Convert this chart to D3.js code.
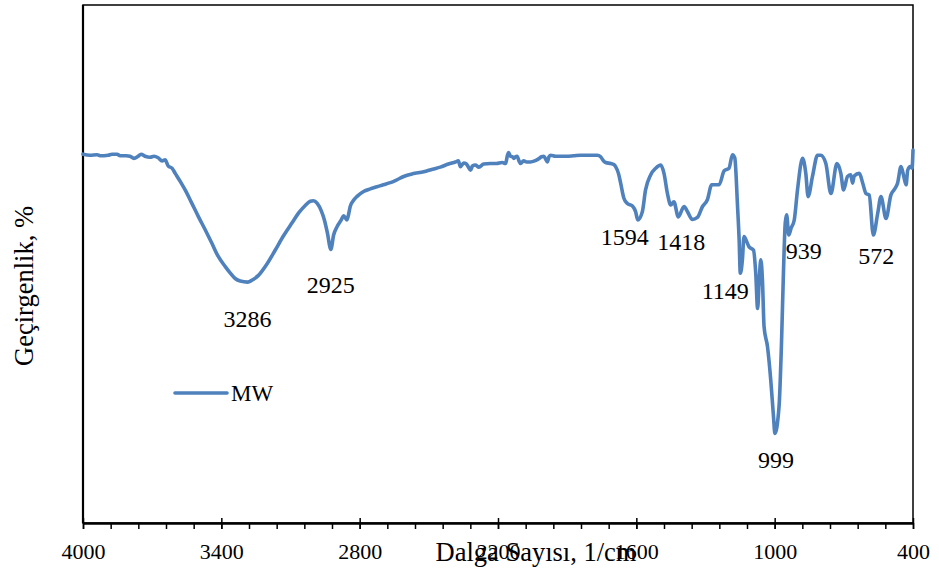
<!DOCTYPE html>
<html>
<head>
<meta charset="utf-8">
<script src="https://cdn.jsdelivr.net/npm/d3@7"></script>
<style>
  html, body { margin: 0; padding: 0; background: #fff; }
  svg { display: block; }
  text { font-family: "Liberation Serif", "Times New Roman", serif; fill: #000; }
</style>
</head>
<body>
<svg id="chart" width="939" height="576"></svg>
<script>
// FTIR spectrum of sample MW: wavenumber (1/cm) and transmittance (%)
const wavenumbers = [4000,3970,3939,3926,3891,3874,3852,3839,3813,3796,3779,3761,3748,3731,3709,3692,3674,3657,3644,3630,3614,3600,3579,3557,3531,3499,3470,3441,3414,3383,3362,3340,3318,3286,3266,3239,3205,3166,3131,3094,3062,3036,3014,3001,2984,2966,2953,2940,2925,2913,2897,2880,2870,2862,2855,2847,2841,2828,2810,2783,2754,2725,2697,2667,2641,2609,2571,2522,2484,2450,2415,2385,2372,2363,2349,2337,2328,2319,2311,2298,2283,2262,2233,2207,2182,2167,2159,2154,2146,2137,2131,2124,2117,2109,2102,2089,2076,2059,2041,2024,2011,2001,1994,1986,1979,1972,1950,1929,1903,1871,1842,1807,1769,1755,1742,1733,1711,1698,1690,1677,1668,1654,1639,1617,1603,1594,1574,1560,1538,1516,1494,1480,1465,1451,1437,1418,1393,1378,1357,1335,1313,1292,1273,1241,1219,1198,1183,1173,1161,1154,1149,1140,1133,1121,1111,1092,1082,1074,1067,1060,1053,1046,1031,1017,1005,999,981,970,962,954,948,939,928,915,901,879,865,855,836,814,800,778,756,730,713,701,684,670,662,655,633,618,604,590,572,553,539,517,496,481,467,452,440,430,423,412,404,400];
const transmittance = [71.2,71.0,71.1,70.9,71.0,71.2,71.2,70.9,70.9,70.8,70.4,70.8,71.2,70.8,70.6,70.8,70.5,69.9,70.1,68.9,68.5,67.5,66.0,64.3,62.0,59.1,56.6,54.0,51.5,49.5,48.3,47.2,46.7,46.5,46.9,47.8,49.8,52.7,55.4,57.9,60.0,61.3,62.1,62.2,61.7,60.2,58.5,56.0,52.8,55.6,57.3,58.5,59.3,58.9,58.5,59.8,61.1,62.2,63.1,64.0,64.5,64.9,65.3,65.7,66.2,66.9,67.4,67.8,68.3,68.7,69.3,69.7,69.9,68.8,69.5,69.3,68.7,68.1,68.9,69.1,68.7,69.3,69.4,69.4,69.6,69.4,71.0,71.5,70.8,70.7,70.4,70.7,70.8,69.9,69.4,69.9,69.7,69.7,69.9,70.3,70.7,70.8,70.3,69.7,70.7,71.0,70.8,70.8,70.8,70.9,71.0,71.0,71.0,70.7,69.9,69.6,69.4,69.2,68.8,67.4,65.6,62.7,61.7,61.2,60.1,58.5,60.1,64.3,67.2,68.5,69.1,67.5,63.6,61.4,62.0,59.1,61.1,60.1,58.6,59.0,61.1,62.4,65.3,65.3,68.0,68.5,71.1,70.5,61.1,54.6,48.2,50.8,55.3,54.3,53.3,52.7,48.2,41.4,46.9,50.8,46.9,37.9,34.0,27.6,20.5,17.3,22.5,35.3,48.2,58.0,59.5,55.6,57.0,58.5,64.3,70.4,67.5,63.0,66.9,71.0,71.0,69.4,63.6,69.4,67.5,64.3,66.9,67.2,65.6,67.0,67.5,65.6,63.6,63.3,55.6,59.8,63.0,58.8,63.3,64.4,65.6,68.8,66.9,65.3,68.1,68.8,68.5,72.0];

// Labelled absorption bands
const peakWavenumbers = [3286, 2925, 1594, 1418, 1149, 999, 939, 572];
const peakLabels = ["3286", "2925", "1594", "1418", "1149", "999", "939", "572"];

// Axis ticks
const majorTicks = [4000, 3400, 2800, 2200, 1600, 1000, 400];
const tickLabels = ["4000", "3400", "2800", "2200", "1600", "1000", "400"];

const seriesName = "MW";
const xTitle = "Dalga Sayısı, 1/cm";
const yTitle = "Geçirgenlik, %";

const svg = d3.select("#chart");
const W = 939, H = 576;
const m = { left: 83, right: 913, top: 5, bottom: 523 };

svg.append("rect").attr("width", W).attr("height", H).attr("fill", "#fff");

const x = d3.scaleLinear().domain([4000, 400]).range([m.left, m.right]);
const y = d3.scaleLinear().domain([0, 100]).range([m.bottom, m.top]);

const blue = "#4F81BD";

// plot frame
svg.append("rect")
  .attr("x", m.left).attr("y", m.top)
  .attr("width", m.right - m.left).attr("height", m.bottom - m.top)
  .attr("fill", "none").attr("stroke", "#000").attr("stroke-width", 1.5);

// left axis line
svg.append("line")
  .attr("x1", m.left).attr("x2", m.left)
  .attr("y1", m.top).attr("y2", m.bottom)
  .attr("stroke", "#000").attr("stroke-width", 2.2);

// bottom axis: minor ticks outside, major ticks crossing
const minorTicks = d3.range(4000, 399, -120);
const xAxisMinor = d3.axisBottom(x).tickValues(minorTicks).tickSize(6).tickFormat("");
svg.append("g").attr("transform", `translate(0,${m.bottom})`).call(xAxisMinor)
  .call(g => g.select(".domain").remove())
  .call(g => g.selectAll("line").attr("stroke", "#000").attr("stroke-width", 1.5));

const xAxisMajor = d3.axisBottom(x).tickValues(majorTicks).tickSizeInner(6).tickSizeOuter(0)
  .tickFormat((d, i) => tickLabels[i]).tickPadding(14);
const gx = svg.append("g").attr("transform", `translate(0,${m.bottom})`).call(xAxisMajor);
gx.select(".domain").attr("stroke", "#000").attr("stroke-width", 2.5);
gx.selectAll(".tick line").attr("stroke", "#000").attr("stroke-width", 1.5).attr("y1", -5);
gx.selectAll(".tick text")
  .attr("font-family", "'Liberation Serif', serif")
  .attr("font-size", 22).attr("fill", "#000");

// spectrum line
const pts = wavenumbers.map((w, i) => [w, transmittance[i]]);
const line = d3.line()
  .x(d => x(d[0]))
  .y(d => y(d[1]))
  .curve(d3.curveMonotoneX);

svg.append("path")
  .datum(pts)
  .attr("d", line)
  .attr("fill", "none")
  .attr("stroke", blue)
  .attr("stroke-width", 3.6)
  .attr("stroke-linejoin", "round")
  .attr("stroke-linecap", "round");

// band labels, nudged below each minimum
const labelNudge = [[0, 45], [0, 44], [-13, 25], [3, 33], [-15, 26], [1, 35], [15, 24], [3, 29]];
peakWavenumbers.forEach((w, i) => {
  const t = transmittance[wavenumbers.indexOf(w)];
  svg.append("text")
    .attr("x", x(w) + labelNudge[i][0])
    .attr("y", y(t) + labelNudge[i][1])
    .attr("text-anchor", "middle")
    .attr("font-size", 24)
    .text(peakLabels[i]);
});

// legend
svg.append("line")
  .attr("x1", 175).attr("x2", 227).attr("y1", 393).attr("y2", 393)
  .attr("stroke", blue).attr("stroke-width", 3.6).attr("stroke-linecap", "round");
svg.append("text").attr("x", 231).attr("y", 401).attr("font-size", 23).text(seriesName);

// axis titles
svg.append("text")
  .attr("x", 536).attr("y", 561)
  .attr("text-anchor", "middle").attr("font-size", 26.5)
  .text(xTitle);

svg.append("text")
  .attr("transform", "translate(33,286) rotate(-90)")
  .attr("text-anchor", "middle").attr("font-size", 26.5)
  .text(yTitle);
</script>
</body>
</html>
